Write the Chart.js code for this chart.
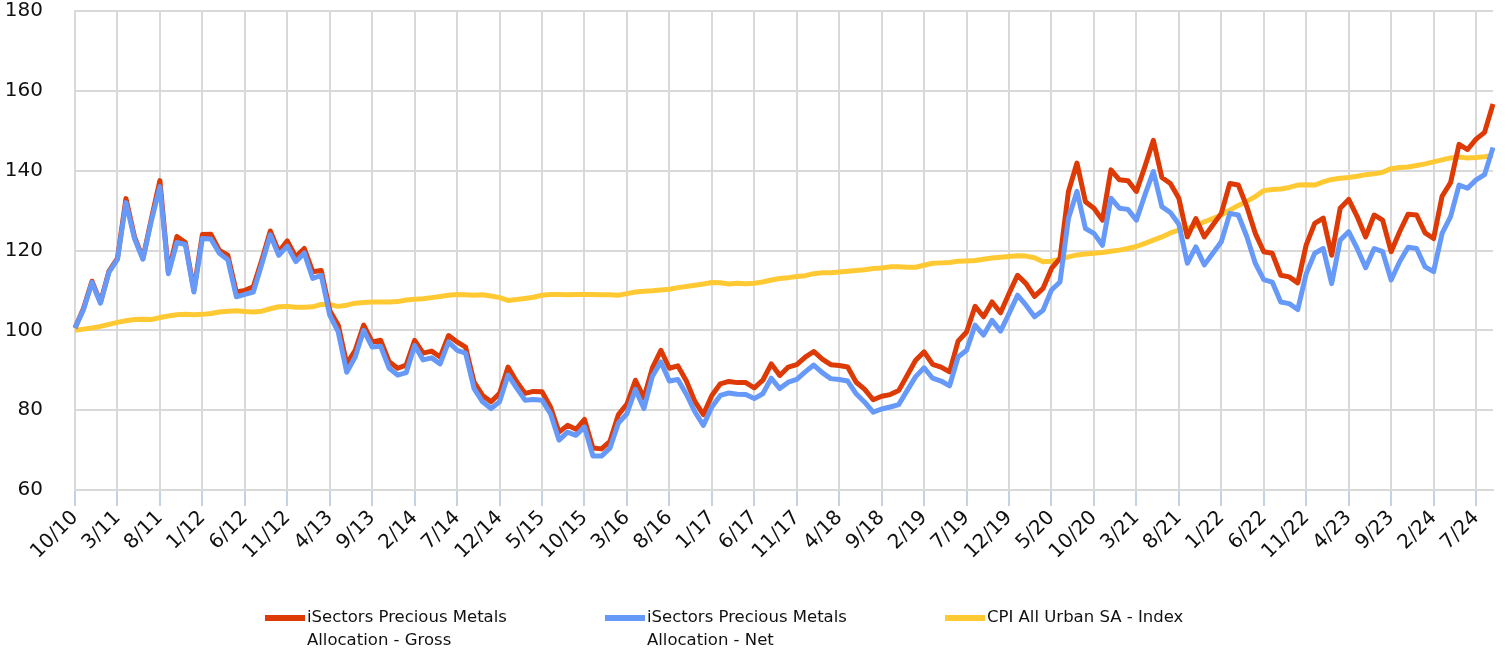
<!DOCTYPE html>
<html>
<head>
<meta charset="utf-8">
<script src="https://cdn.jsdelivr.net/npm/chart.js@4.4.1/dist/chart.umd.min.js"></script>
<style>
  body { margin: 0; background: #fff; }
  #wrap { position: relative; width: 1510px; height: 651px; }
  #legend { position: absolute; left: 0; top: 605px; width: 1510px; height: 46px;
    font-family: "DejaVu Sans", Verdana, sans-serif; font-size: 16.5px; line-height: 23px; color: #111; }
  .item { position: absolute; top: 0; }
  .swatch { position: absolute; left: 0; top: 10px; width: 40px; height: 6px; }
  .text { margin-left: 42px; white-space: nowrap; }
</style>
</head>
<body>
<div id="wrap">
  <canvas id="chart" width="1510" height="651"></canvas>
  <div id="legend"></div>
</div>
<script>
// monthly values, 10/10 .. 9/24
const gross = [
  100.6, 105.5, 112.3, 107.0, 114.8, 118.0, 133.0, 123.5, 118.0, 128.0,
  137.5, 114.5, 123.5, 122.0, 110.0, 124.0, 124.1, 120.0, 118.8, 109.6,
  110.0, 110.9, 117.6, 124.9, 119.7, 122.4, 118.4, 120.5, 114.7, 115.0,
  105.0, 101.3, 91.6, 95.0, 101.3, 97.1, 97.5, 92.1, 90.5, 91.3,
  97.5, 94.3, 94.8, 93.3, 98.7, 97.1, 95.8, 87.0, 83.7, 82.1,
  84.2, 90.8, 87.2, 84.2, 84.7, 84.6, 80.8, 74.5, 76.2, 75.2,
  77.7, 70.5, 70.3, 72.2, 78.9, 81.5, 87.5, 83.1, 90.6, 95.0,
  90.5, 91.1, 87.3, 82.2, 78.9, 83.7, 86.6, 87.2, 86.9, 86.9,
  85.6, 87.5, 91.6, 88.7, 90.8, 91.4, 93.3, 94.7, 92.8, 91.4,
  91.2, 90.8, 87.0, 85.2, 82.6, 83.5, 83.9, 84.9, 88.7, 92.5,
  94.6, 91.5, 90.8, 89.6, 97.3, 99.6, 106.0, 103.4, 107.1, 104.4,
  109.2, 113.8, 111.7, 108.5, 110.5, 115.5, 118.0, 134.8, 141.9, 132.2,
  130.6, 127.6, 140.2, 137.7, 137.5, 134.8, 141.0, 147.6, 138.3, 136.8,
  133.1, 123.4, 128.0, 123.4, 126.4, 129.3, 136.8, 136.4, 131.0, 124.3,
  119.7, 119.3, 113.8, 113.4, 111.9, 121.4, 126.8, 128.1, 118.8, 130.6,
  132.8, 128.5, 123.4, 128.9, 127.6, 119.7, 124.7, 129.1, 128.9, 124.4,
  123.0, 133.6, 137.0, 146.6, 145.3, 147.9, 149.6, 156.7
];

const net = [
  100.6, 105.2, 112.0, 106.8, 114.6, 117.8, 132.0, 123.0, 117.8, 127.5,
  136.0, 114.2, 122.0, 121.5, 109.6, 123.0, 122.9, 119.3, 117.7, 108.4,
  109.0, 109.6, 116.6, 123.9, 118.8, 121.1, 117.2, 119.4, 113.0, 113.8,
  103.8, 99.6, 89.5, 93.3, 100.0, 95.8, 96.0, 90.5, 88.8, 89.4,
  96.2, 92.6, 93.1, 91.6, 97.1, 95.0, 94.3, 85.4, 82.1, 80.4,
  82.1, 88.8, 85.6, 82.5, 82.7, 82.5, 79.1, 72.5, 74.5, 73.7,
  75.8, 68.5, 68.5, 70.5, 76.8, 79.1, 85.2, 80.4, 88.5, 92.1,
  87.3, 87.7, 84.0, 79.6, 76.2, 80.8, 83.7, 84.3, 84.0, 83.9,
  82.9, 84.1, 88.0, 85.4, 87.0, 87.7, 89.6, 91.3, 89.4, 87.9,
  87.7, 87.3, 84.1, 82.0, 79.5, 80.3, 80.8, 81.4, 84.9, 88.4,
  90.6, 88.0, 87.3, 86.1, 93.3, 95.0, 101.3, 98.8, 102.5, 99.8,
  104.2, 108.8, 106.3, 103.4, 105.0, 110.1, 112.1, 128.1, 134.8, 125.5,
  124.3, 121.3, 133.1, 130.6, 130.3, 127.6, 133.9, 139.8, 131.0, 129.5,
  126.6, 116.8, 120.9, 116.4, 119.3, 122.2, 129.3, 128.9, 123.5, 116.8,
  112.7, 112.1, 107.1, 106.7, 105.2, 114.2, 119.3, 120.5, 111.7, 122.6,
  124.7, 120.5, 115.7, 120.5, 119.7, 112.6, 117.2, 120.8, 120.5, 115.9,
  114.7, 124.3, 128.5, 136.4, 135.6, 137.7, 139.0, 145.8
];

const cpi = [
  100.0, 100.3, 100.6, 101.0, 101.5, 102.0, 102.4, 102.7, 102.8, 102.7,
  103.2, 103.6, 103.9, 104.0, 103.9, 104.0, 104.2, 104.6, 104.8, 104.9,
  104.7, 104.6, 104.8, 105.4, 105.9, 106.0, 105.8, 105.8, 105.9, 106.5,
  106.4, 106.0, 106.3, 106.8, 107.0, 107.1, 107.1, 107.1, 107.2, 107.6,
  107.8, 107.9, 108.2, 108.5, 108.8, 109.0, 108.9, 108.8, 108.9, 108.6,
  108.2, 107.5, 107.7, 108.0, 108.3, 108.8, 109.0, 109.0, 108.9, 109.0,
  109.0, 109.0, 108.9, 108.9, 108.8, 109.2, 109.6, 109.8, 109.9, 110.1,
  110.3, 110.7, 111.0, 111.3, 111.6, 112.0, 111.9, 111.6, 111.8, 111.7,
  111.8, 112.1, 112.6, 113.0, 113.2, 113.5, 113.7, 114.2, 114.4, 114.4,
  114.6, 114.8, 115.0, 115.2, 115.5, 115.6, 115.9, 115.9, 115.8, 115.8,
  116.3, 116.8, 116.9, 117.0, 117.3, 117.4, 117.5, 117.8, 118.1, 118.3,
  118.5, 118.7, 118.6, 118.2, 117.2, 117.3, 117.8, 118.4, 118.9, 119.1,
  119.3, 119.5, 119.8, 120.1, 120.5, 121.0, 121.8, 122.6, 123.4, 124.4,
  125.1, 125.6, 126.2, 127.2, 128.0, 128.9, 130.1, 131.3, 132.3, 133.5,
  135.0, 135.3, 135.4, 135.8, 136.4, 136.5, 136.4, 137.2, 137.8, 138.1,
  138.3, 138.6, 139.0, 139.2, 139.6, 140.5, 140.8, 140.9, 141.3, 141.7,
  142.2, 142.7, 143.2, 143.4, 143.2, 143.3, 143.5, 143.8
];

const seriesNames = [
  ["iSectors Precious Metals", "Allocation - Gross"],
  ["iSectors Precious Metals", "Allocation - Net"],
  ["CPI All Urban SA - Index"]
];
const seriesColors = ["#dd3a06", "#6699f8", "#ffc934"];
const legendLeft = [265, 605, 945];

// month labels m/yy starting 10/10
const labels = [];
for (let k = 0; k < gross.length; k++) {
  const month = ((9 + k) % 12) + 1;
  const year = 10 + Math.floor((9 + k) / 12);
  labels.push(month + "/" + year);
}

Chart.defaults.font.family = "'DejaVu Sans', Verdana, sans-serif";
Chart.defaults.color = "#111";

const gridColor = "#d9d9d9";

new Chart(document.getElementById("chart").getContext("2d"), {
  type: "line",
  data: {
    labels: labels,
    datasets: [
      { label: seriesNames[0].join(" "), data: gross, borderColor: seriesColors[0], order: 1 },
      { label: seriesNames[1].join(" "), data: net, borderColor: seriesColors[1], order: 0 },
      { label: seriesNames[2].join(" "), data: cpi, borderColor: seriesColors[2], order: 2 },
    ].map((d) => Object.assign(d, {
      borderWidth: 5,
      pointRadius: 0,
      tension: 0,
      fill: false,
      borderJoinStyle: "round",
    })),
  },
  options: {
    responsive: false,
    animation: false,
    devicePixelRatio: 1,
    layout: { padding: { top: 11, right: 12, bottom: 0, left: 0 } },
    plugins: { legend: { display: false }, tooltip: { enabled: false } },
    scales: {
      x: {
        type: "category",
        offset: false,
        border: { color: gridColor, width: 2 },
        grid: {
          lineWidth: 2,
          color: (ctx) => (ctx.index % 5 === 0 ? gridColor : "rgba(0,0,0,0)"),
          tickColor: (ctx) => (ctx.index % 5 === 0 ? "#c3d2e4" : "rgba(0,0,0,0)"),
          tickLength: 16,
        },
        ticks: {
          autoSkip: false,
          minRotation: 45,
          maxRotation: 45,
          padding: 0,
          font: { size: 20 },
          callback: function (value, index) {
            return index % 5 === 0 ? this.getLabelForValue(value) : "";
          },
        },
        afterFit: (scale) => { scale.height = 161; },
      },
      y: {
        min: 60,
        max: 180,
        border: { color: gridColor, width: 2 },
        grid: { color: gridColor, lineWidth: 2, drawTicks: false },
        ticks: { stepSize: 20, padding: 32, font: { size: 20 } },
        afterFit: (scale) => {
          scale.width = 75;
          // keep the big label gap from inflating the top/bottom padding
          scale.paddingTop = 0;
          scale.paddingBottom = 0;
        },
      },
    },
  },
});

// legend below the chart
const legend = document.getElementById("legend");
seriesNames.forEach((lines, i) => {
  const item = document.createElement("div");
  item.className = "item";
  item.style.left = legendLeft[i] + "px";
  const sw = document.createElement("div");
  sw.className = "swatch";
  sw.style.background = seriesColors[i];
  const txt = document.createElement("div");
  txt.className = "text";
  txt.innerHTML = lines.join("<br>");
  item.appendChild(sw);
  item.appendChild(txt);
  legend.appendChild(item);
});
</script>
</body>
</html>
